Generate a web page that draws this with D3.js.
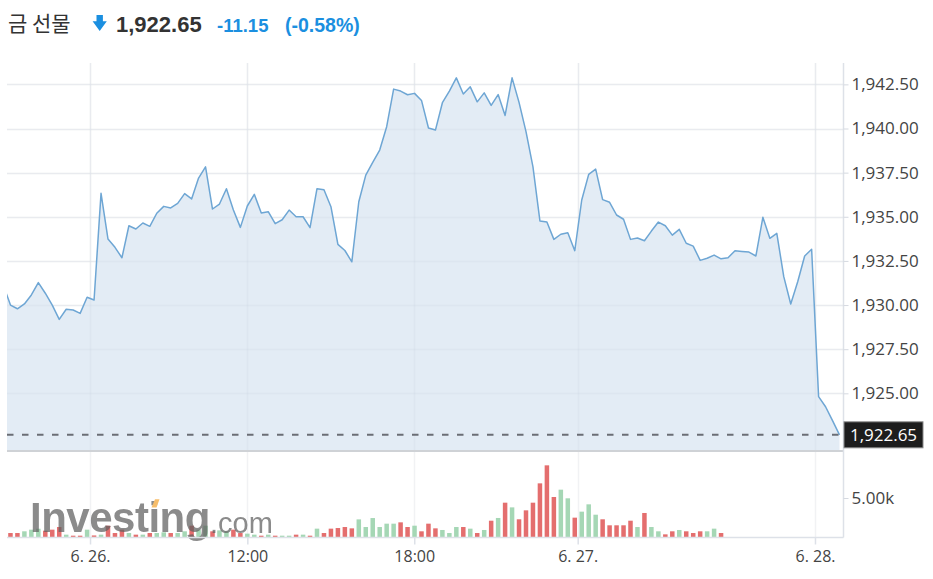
<!DOCTYPE html>
<html><head><meta charset="utf-8">
<script src="https://cdn.jsdelivr.net/npm/d3@7"></script>
<style>body{margin:0;background:#fff;} svg{display:block;}</style>
</head><body>
<svg id="chart" width="933" height="579"></svg>
<script>
// ---------- data ----------
const title = "금 선물";
const lastPrice = 1922.65;
const change = -11.15;
const changePct = -0.58;
const prices = [
 1931.1, 1930.0, 1929.79, 1930.06, 1930.57, 1931.27, 1930.67, 1930.0, 1929.19, 1929.76,
 1929.72, 1929.53, 1930.44, 1930.29, 1936.33, 1933.74, 1933.27, 1932.68, 1934.49, 1934.31,
 1934.65, 1934.46, 1935.2, 1935.59, 1935.5, 1935.76, 1936.31, 1936.01, 1937.19, 1937.83,
 1935.44, 1935.72, 1936.59, 1935.38, 1934.4, 1935.61, 1936.27, 1935.21, 1935.29, 1934.61,
 1934.83, 1935.38, 1935.0, 1935.0, 1934.38, 1936.59, 1936.53, 1935.57, 1933.44, 1933.09,
 1932.45, 1935.85, 1937.36, 1938.08, 1938.78, 1940.1, 1942.23, 1942.12, 1941.91, 1941.99,
 1941.59, 1940.03, 1939.91, 1941.46, 1942.12, 1942.87, 1941.95, 1942.36, 1941.51, 1942.02,
 1941.31, 1941.92, 1940.74, 1942.87, 1941.48, 1939.82, 1937.83, 1934.76, 1934.7, 1933.72,
 1934.01, 1934.1, 1933.08, 1935.95, 1937.4, 1937.7, 1935.97, 1935.82, 1935.1, 1934.86,
 1933.72, 1933.8, 1933.64, 1934.19, 1934.7, 1934.49, 1933.96, 1934.29, 1933.5, 1933.34,
 1932.53, 1932.65, 1932.83, 1932.62, 1932.68, 1933.08, 1933.04, 1933.0, 1932.78, 1934.97,
 1933.78, 1934.06, 1931.61, 1930.06, 1931.32, 1932.78, 1933.16, 1924.81, 1924.24, 1923.45,
 1922.65
];
const volumes = [
 500, 510, 510, 730, 940, 1060, 810, 940, 1280, 300,
 170, 170, 940, 200, 300, 1450, 510, 940, 510, 300,
 300, 510, 510, 600, 510, 510, 730, 1450, 940, 1450,
 730, 850, 730, 940, 510, 430, 300, 170, 300, 170,
 170, 170, 300, 300, 170, 1070, 510, 1070, 1150, 1280,
 1110, 2260, 1280, 2430, 1280, 1710, 1710, 1880, 1280, 1450,
 730, 1710, 1110, 900, 510, 1280, 1280, 1070, 510, 900,
 2090, 2440, 4400, 3800, 2270, 3420, 4400, 6880, 9190, 5130,
 6070, 4960, 2480, 3250, 4190, 2860, 2270, 1500, 1500, 1500,
 2090, 1280, 3080, 1280, 730, 340, 730, 900, 730, 510,
 730, 730, 1070, 510, 0, 0, 0, 0, 0, 0,
 0, 0, 0, 0, 0, 0, 0, 0, 0, 0,
 0
];
const yTicks = [1925, 1927.5, 1930, 1932.5, 1935, 1937.5, 1940, 1942.5];
const volTicks = [5000];
const xTickLabels = ["6. 26.", "12:00", "18:00", "6. 27.", "6. 28."];
const xTickAt = [12.42, 35, 58.96, 82.42, 116.48];

// ---------- layout ----------
const L = 7, R = 843, T = 63, MB = 450, VT = 452, VB = 537;
const svg = d3.select("#chart");
const numFont = "'Open Sans', 'DejaVu Sans', sans-serif";
const blue = "#1b8fe0";
const loc = d3.formatLocale({decimal: ".", thousands: ",", grouping: [3], currency: ["", ""], minus: "-"});
const fmt2 = loc.format(".2f");
const fmtP = loc.format(",.2f");

const x = d3.scaleLinear().domain([0, prices.length - 1]).range([3.5, 839.5]);
const y = d3.scaleLinear().domain([1921.79, 1943.71]).range([MB, T]);
const yv = d3.scaleLinear().domain([0, 10900]).range([VB, VT]);

const defs = svg.append("defs");
defs.append("clipPath").attr("id", "clipMain").append("rect")
  .attr("x", L).attr("y", T).attr("width", R - L).attr("height", MB - T);
defs.append("clipPath").attr("id", "clipVol").append("rect")
  .attr("x", L).attr("y", VT).attr("width", R - L).attr("height", VB - VT);
const blur = defs.append("filter").attr("id", "soft");
blur.append("feGaussianBlur").attr("stdDeviation", 0.6);

// ---------- header ----------
const hdr = svg.append("g");
hdr.append("text").attr("x", 8).attr("y", 31).text(title)
  .attr("font-family", "'Noto Sans CJK KR', sans-serif").attr("font-size", 21).attr("fill", "#333");
hdr.append("path").attr("d", "M96.5,15 H102.9 V21.3 H106.8 L99.7,30.9 L92.6,21.3 H96.5 Z").attr("fill", blue);
hdr.append("text").attr("x", 116).attr("y", 31.5).text(fmtP(lastPrice))
  .attr("font-family", "'Liberation Sans', Arial, sans-serif").attr("font-weight", "bold")
  .attr("font-size", 22).attr("fill", "#333");
hdr.append("text").attr("x", 217).attr("y", 31.5).text(fmt2(change))
  .attr("font-family", "'Liberation Sans', Arial, sans-serif").attr("font-weight", "bold")
  .attr("font-size", 18.5).attr("fill", blue);
hdr.append("text").attr("x", 285).attr("y", 31.5).text("(" + fmt2(changePct) + "%)")
  .attr("font-family", "'Liberation Sans', Arial, sans-serif").attr("font-weight", "bold")
  .attr("font-size", 19.5).attr("fill", blue);

// ---------- gridlines ----------
const grid = svg.append("g");
grid.selectAll("line.h").data(yTicks).join("line")
  .attr("x1", L).attr("x2", R).attr("y1", d => Math.round(y(d)) + 0.5).attr("y2", d => Math.round(y(d)) + 0.5)
  .attr("stroke", "#f1f2f4").attr("stroke-width", 1.5);
grid.selectAll("line.v").data(xTickAt).join("line")
  .attr("x1", d => Math.round(x(d)) + 0.5).attr("x2", d => Math.round(x(d)) + 0.5)
  .attr("y1", T).attr("y2", VB)
  .attr("stroke", "#f1f2f4").attr("stroke-width", 1.5);

// ---------- price area & line ----------
const main = svg.append("g").attr("clip-path", "url(#clipMain)");
main.append("path").datum(prices)
  .attr("d", d3.area().x((d, i) => x(i)).y0(MB).y1(d => y(d)))
  .attr("fill", "#e3ecf5");
main.selectAll("line.h2").data(yTicks).join("line")
  .attr("x1", L).attr("x2", R).attr("y1", d => Math.round(y(d)) + 0.5).attr("y2", d => Math.round(y(d)) + 0.5)
  .attr("stroke", "rgba(190,200,215,0.16)").attr("stroke-width", 1.5);
main.selectAll("line.v2").data(xTickAt).join("line")
  .attr("x1", d => Math.round(x(d)) + 0.5).attr("x2", d => Math.round(x(d)) + 0.5)
  .attr("y1", T).attr("y2", MB)
  .attr("stroke", "rgba(190,200,215,0.16)").attr("stroke-width", 1.5);
main.append("path").datum(prices)
  .attr("d", d3.line().x((d, i) => x(i)).y(d => y(d)))
  .attr("fill", "none").attr("stroke", "#6ea6d4").attr("stroke-width", 1.5).attr("stroke-linejoin", "round");

// dashed last-price line
svg.append("line").attr("x1", L).attr("x2", R)
  .attr("y1", y(lastPrice)).attr("y2", y(lastPrice))
  .attr("stroke", "#6b6e75").attr("stroke-width", 2).attr("stroke-dasharray", "6.5,8.5");

// ---------- volume ----------
const vol = svg.append("g").attr("clip-path", "url(#clipVol)");
vol.selectAll("rect").data(volumes.map((v, i) => ({ v, i })).filter(d => d.v > 0)).join("rect")
  .attr("x", d => x(d.i) - 2.25).attr("width", 4.5)
  .attr("y", d => yv(d.v)).attr("height", d => VB - yv(d.v))
  .attr("fill", d => (d.i > 0 && prices[d.i] < prices[d.i - 1]) ? "#e46e6e" : "#a5d7b5");

// watermark
const wm = svg.append("g").attr("opacity", 0.72).attr("filter", "url(#soft)");
wm.append("text").attr("x", 30).attr("y", 532).text("Investing")
  .attr("font-family", "'Liberation Sans', Arial, sans-serif").attr("font-weight", "bold")
  .attr("font-size", 42).attr("letter-spacing", -0.5).attr("fill", "#5e5e5e");
wm.append("text").attr("x", 210).attr("y", 533).text(".com")
  .attr("font-family", "'Liberation Sans', Arial, sans-serif")
  .attr("font-size", 29).attr("fill", "#5e5e5e");
wm.append("path").attr("d", "M151.5,507.5 L155,499.2 L159.5,499.2 L156.5,507.5 Z").attr("fill", "#f3a531");

// ---------- axes frame ----------
svg.append("line").attr("x1", L).attr("x2", R).attr("y1", 451).attr("y2", 451)
  .attr("stroke", "#cfd2d6").attr("stroke-width", 2);
svg.append("line").attr("x1", L).attr("x2", R + 0.5).attr("y1", VB + 0.5).attr("y2", VB + 0.5)
  .attr("stroke", "#dde1e8").attr("stroke-width", 1.5);
svg.append("line").attr("x1", R + 0.5).attr("x2", R + 0.5).attr("y1", T).attr("y2", VB + 0.5)
  .attr("stroke", "#dde1e8").attr("stroke-width", 1.5);

// right price axis
const yAxis = d3.axisRight(y).tickValues(yTicks).tickSize(5).tickPadding(3).tickFormat(fmtP);
const gy = svg.append("g").attr("transform", `translate(${R + 0.5},0)`).call(yAxis);
gy.select(".domain").remove();
gy.selectAll(".tick line").attr("stroke", "#d5d9e0");
gy.selectAll(".tick text").attr("font-family", numFont).attr("font-size", 17).attr("fill", "#444");

// right volume axis
const vAxis = d3.axisRight(yv).tickValues(volTicks).tickSize(5).tickPadding(3)
  .tickFormat(d => fmt2(d / 1000) + "k");
const gv = svg.append("g").attr("transform", `translate(${R + 0.5},0)`).call(vAxis);
gv.select(".domain").remove();
gv.selectAll(".tick line").attr("stroke", "#d5d9e0");
gv.selectAll(".tick text").attr("font-family", numFont).attr("font-size", 17).attr("fill", "#444");

// bottom time axis
const xAxis = d3.axisBottom(x).tickValues(xTickAt).tickSize(7).tickPadding(6)
  .tickFormat((d, i) => xTickLabels[i]);
const gx = svg.append("g").attr("transform", `translate(0,${VB + 0.5})`).call(xAxis);
gx.select(".domain").remove();
gx.selectAll(".tick line").attr("stroke", "#dde1e8").attr("stroke-width", 1.5);
gx.selectAll(".tick text").attr("font-family", numFont).attr("font-size", 16).attr("fill", "#444");

// last price label
const lp = svg.append("g");
lp.append("rect").attr("x", R + 1).attr("y", y(lastPrice) - 13).attr("width", 79).attr("height", 26)
  .attr("fill", "#1d1d1d").attr("stroke", "#8a8a8a").attr("stroke-width", 1);
lp.append("text").attr("x", R + 40.5).attr("y", y(lastPrice)).attr("dy", "0.35em")
  .attr("text-anchor", "middle").text(fmtP(lastPrice))
  .attr("font-family", numFont).attr("font-size", 17).attr("fill", "#fff");
</script>
</body></html>
